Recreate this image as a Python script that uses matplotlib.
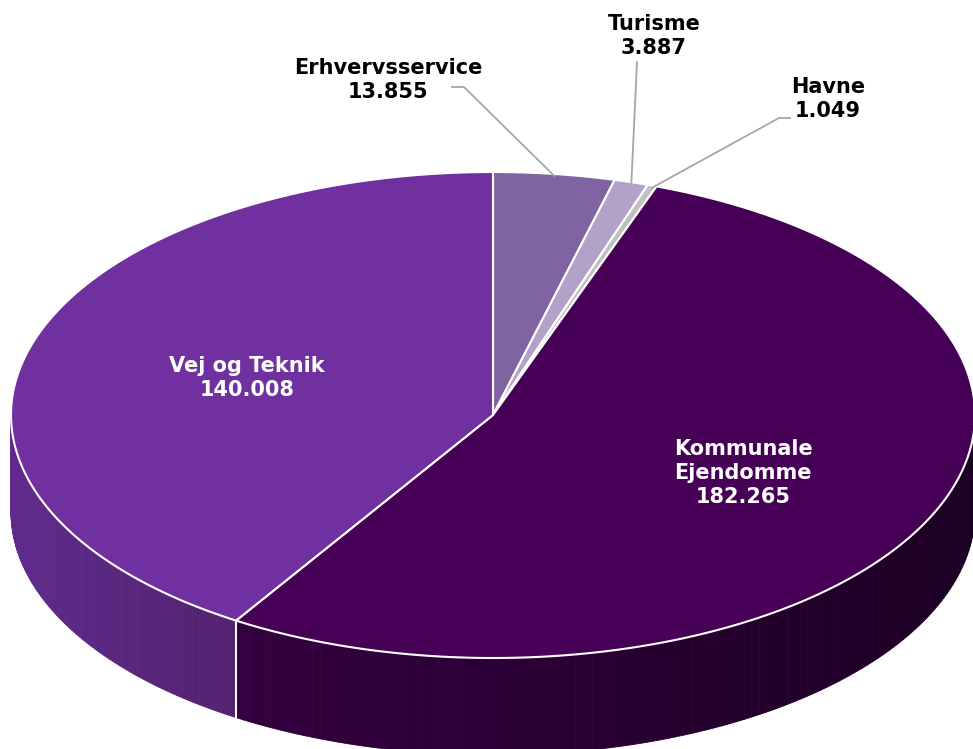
import numpy as np
import matplotlib.pyplot as plt
from matplotlib.patches import Polygon
from matplotlib.colors import to_rgb

labels = ['Erhvervsservice', 'Turisme', 'Havne', 'Kommunale\nEjendomme', 'Vej og Teknik']
values = [13.855, 3.887, 1.049, 182.265, 140.008]

top_colors = ['#8064a2', '#b3a2c7', '#c0c0c0', '#460055', '#7030a0']
side_left = ['#66508a', '#9a8aae', '#a8a8a8', '#34003f', '#5f2a8c']
side_right = ['#5a467a', '#8a7a9e', '#989898', '#1c0024', '#53226f']

# layout of the tilted pie (pixels)
cx, cy, a, b, depth = 493, 415, 482, 243, 97


def pt(theta, dy=0.0):
    # theta clockwise from 12 o'clock
    return cx + a * np.sin(theta), cy - b * np.cos(theta) + dy


fig = plt.figure(figsize=(9.73, 7.49), dpi=100)
ax = fig.add_axes([0, 0, 1, 1])
ax.set_xlim(0, 973)
ax.set_ylim(749, 0)
ax.axis('off')

total = sum(values)
bounds = np.concatenate([[0], np.cumsum(values)]) / total * 2 * np.pi

# side walls (front half only)
for i in range(len(values)):
    t0 = max(bounds[i], np.pi / 2)
    t1 = min(bounds[i + 1], 3 * np.pi / 2)
    if t1 <= t0:
        continue
    ts = np.linspace(t0, t1, 120)
    xs = [pt(t)[0] for t in ts]
    xmin, xmax = min(xs), max(xs)
    c0, c1 = np.array(to_rgb(side_left[i])), np.array(to_rgb(side_right[i]))
    for s0, s1 in zip(ts[:-1], ts[1:]):
        xm = (pt(s0)[0] + pt(s1)[0]) / 2
        f = (xm - xmin) / (xmax - xmin) if xmax > xmin else 0
        col = c0 + (c1 - c0) * f
        poly = [pt(s0), pt(s1), pt(s1, depth), pt(s0, depth)]
        ax.add_patch(Polygon(poly, closed=True, facecolor=col, edgecolor=col, lw=0.6))

# white seam between visible side walls
for t in bounds[1:-1]:
    if np.pi / 2 < t < 3 * np.pi / 2:
        x0, y0 = pt(t)
        ax.plot([x0, x0], [y0, y0 + depth], color='white', lw=1.5)

# top faces
for i in range(len(values)):
    ts = np.linspace(bounds[i], bounds[i + 1], 200)
    poly = [(cx, cy)] + [pt(t) for t in ts]
    ax.add_patch(Polygon(poly, closed=True, facecolor=top_colors[i], edgecolor='white', lw=1.5,
                         joinstyle='round'))

fs = 15
ls = 1.22
# inside labels
ax.text(247, 378, f'{labels[4]}\n{values[4]:.3f}', color='white', fontsize=fs, fontweight='bold',
        ha='center', va='center', linespacing=ls)
ax.text(743, 473, f'{labels[3]}\n{values[3]:.3f}', color='white', fontsize=fs, fontweight='bold',
        ha='center', va='center', linespacing=ls)

# outside labels with leader lines
mids = (bounds[:-1] + bounds[1:]) / 2
outside = {0: ((388, 80), [(452, 87), (464, 87)]),
           1: ((654, 36), [(637, 62)]),
           2: ((828, 99), [(790, 118), (779, 118)])}
for i, (tpos, path) in outside.items():
    ax.text(tpos[0], tpos[1], f'{labels[i]}\n{values[i]:.3f}', color='black', fontsize=fs,
            fontweight='bold', ha='center', va='center', linespacing=ls)
    ex, ey = pt(mids[i])
    pts = path + [(ex, ey + 2)]
    ax.plot([p[0] for p in pts], [p[1] for p in pts], color='#a6a6a6', lw=1.3)

fig.savefig('out.png', dpi=100)
